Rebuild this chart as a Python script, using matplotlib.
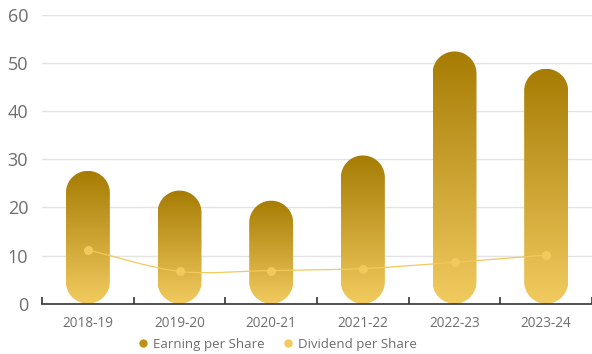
import matplotlib.pyplot as plt
import numpy as np
from matplotlib.path import Path
from matplotlib.patches import PathPatch
from matplotlib.colors import LinearSegmentedColormap
from matplotlib.lines import Line2D

plt.rcParams['font.family'] = ['Open Sans', 'DejaVu Sans']

# data
years = ['2018-19', '2019-20', '2020-21', '2021-22', '2022-23', '2023-24']
eps = [27.6, 23.5, 21.4, 30.8, 52.4, 48.8]
dps = [11.2, 6.7, 6.9, 7.3, 8.6, 10.1]

top_col = '#a67c04'
bot_col = '#f2cb60'
dps_col = '#f2c95c'

fig = plt.figure(figsize=(5.92, 3.54), dpi=100)
ax = fig.add_axes([0.071, 0.142, 0.929, 0.816])

x = np.arange(len(years))
ax.set_xlim(-0.5, len(years) - 0.5)
ax.set_ylim(0, 60)
ax.set_yticks(np.arange(0, 61, 10))

# pill shaped bars, filled with a vertical gradient
bar_w = 0.48
cmap = LinearSegmentedColormap.from_list('gold', [bot_col, top_col])
grad = np.linspace(0, 1, 256).reshape(-1, 1)
bbox = ax.get_window_extent()
ry_per_rx = (60 / bbox.height) / (len(years) / bbox.width)
rx = bar_w / 2
ry = rx * ry_per_rx


def pill(xc, h):
    t_top = np.linspace(0, np.pi, 40)
    t_bot = np.linspace(np.pi, 2 * np.pi, 40)
    xs = np.concatenate([xc + rx * np.cos(t_top), xc + rx * np.cos(t_bot)])
    ys = np.concatenate([h - ry + ry * np.sin(t_top), ry + ry * np.sin(t_bot)])
    v = np.column_stack([xs, ys])
    v = np.vstack([v, v[:1]])
    codes = [Path.MOVETO] + [Path.LINETO] * (len(v) - 2) + [Path.CLOSEPOLY]
    return Path(v, codes)


for xi, v in zip(x, eps):
    patch = PathPatch(pill(xi, v), facecolor='none', edgecolor='none', zorder=2)
    ax.add_patch(patch)
    im = ax.imshow(grad, extent=(xi - rx, xi + rx, 0, v), origin='lower',
                   cmap=cmap, aspect='auto', zorder=2, interpolation='bilinear')
    im.set_clip_path(patch)

# smooth dividend line
pts = np.column_stack([x, dps]).astype(float)
s = 0.15
verts = [pts[0]]
codes = [Path.MOVETO]
for i in range(len(pts) - 1):
    p0 = pts[i - 1] if i > 0 else pts[i]
    p1, p2 = pts[i], pts[i + 1]
    p3 = pts[i + 2] if i + 2 < len(pts) else pts[i + 1]
    verts += [p1 + (p2 - p0) * s, p2 - (p3 - p1) * s, p2]
    codes += [Path.CURVE4] * 3
ax.add_patch(PathPatch(Path(verts, codes), facecolor='none', edgecolor=dps_col,
                       lw=0.9, zorder=3))
ax.plot(x, dps, 'o', color=dps_col, ms=6.5, mec='none', zorder=4)

ax.set_xlim(-0.5, len(years) - 0.5)
ax.set_ylim(0, 60)

# axes styling
for sp in ['top', 'right', 'left']:
    ax.spines[sp].set_visible(False)
ax.spines['bottom'].set_color('#333333')
ax.spines['bottom'].set_linewidth(1.2)
ax.spines['bottom'].set_zorder(5)
ax.grid(axis='y', color='#e3e3e3', lw=1)
ax.set_axisbelow(True)
ax.set_xticks(x)
ax.set_xticklabels(years, fontsize=9.8, color='#6e6e6e')
ax.set_xticks(np.arange(-0.5, len(years)), minor=True)
ax.tick_params(axis='x', which='major', length=0, pad=9)
ax.tick_params(axis='x', which='minor', direction='in', length=5, width=1.2, color='#333333')
ax.tick_params(axis='y', length=0, pad=10, labelsize=13, labelcolor='#6e6e6e')

handles = [Line2D([], [], ls='none', marker='o', ms=6, color='#bb9116', mec='none'),
           Line2D([], [], ls='none', marker='o', ms=6, color=dps_col, mec='none')]
fig.legend(handles, ['Earning per Share', 'Dividend per Share'], loc='center',
           bbox_to_anchor=(0.466, 0.028), ncol=2, frameon=False, fontsize=9.6,
           handletextpad=0.15, handlelength=1.2, columnspacing=1.2,
           labelcolor='#6e6e6e')

fig.savefig('out.png', dpi=100, facecolor='white')
